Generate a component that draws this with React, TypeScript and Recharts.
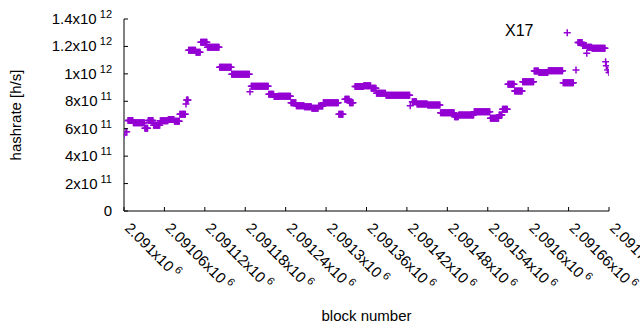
import { ScatterChart, Scatter, XAxis, YAxis, Legend } from "recharts"

// hashrate is flat over runs of consecutive blocks; each run is [first block, last block, value]
const runFirst = [
  2091000, 2091003, 2091006, 2091014, 2091031, 2091036, 2091044, 2091054, 2091066, 2091075,
  2091083, 2091092, 2091093, 2091096, 2091107, 2091114, 2091124, 2091142, 2091160, 2091187,
  2091189, 2091215, 2091223, 2091229, 2091248, 2091256, 2091268, 2091279, 2091289, 2091296,
  2091319, 2091328, 2091335, 2091343, 2091356, 2091367, 2091375, 2091389, 2091425, 2091428,
  2091435, 2091451, 2091470, 2091491, 2091497, 2091520, 2091544, 2091557, 2091562, 2091570,
  2091580, 2091592, 2091609, 2091616, 2091630, 2091652, 2091658, 2091671, 2091674, 2091681,
  2091687, 2091688, 2091695, 2091715, 2091716, 2091718, 2091720,
]
const runLast = [
  2091000, 2091004, 2091013, 2091030, 2091035, 2091043, 2091053, 2091065, 2091074, 2091082,
  2091091, 2091092, 2091095, 2091106, 2091113, 2091123, 2091141, 2091159, 2091186, 2091187,
  2091214, 2091222, 2091228, 2091247, 2091255, 2091267, 2091278, 2091288, 2091295, 2091318,
  2091325, 2091334, 2091340, 2091355, 2091366, 2091374, 2091388, 2091424, 2091425, 2091434,
  2091450, 2091469, 2091490, 2091496, 2091519, 2091543, 2091556, 2091561, 2091569, 2091579,
  2091591, 2091608, 2091615, 2091629, 2091651, 2091667, 2091658, 2091671, 2091680, 2091686,
  2091687, 2091694, 2091714, 2091715, 2091716, 2091718, 2091720,
]
const runHashrate = [
  0.554e12, 0.578e12, 0.66e12, 0.644e12, 0.603e12, 0.659e12, 0.626e12, 0.658e12, 0.668e12, 0.654e12,
  0.705e12, 0.78e12, 0.81e12, 1.172e12, 1.158e12, 1.23e12, 1.194e12, 1.048e12, 0.997e12, 0.87e12,
  0.91e12, 0.851e12, 0.834e12, 0.836e12, 0.79e12, 0.768e12, 0.76e12, 0.749e12, 0.766e12, 0.79e12,
  0.705e12, 0.815e12, 0.79e12, 0.907e12, 0.914e12, 0.895e12, 0.858e12, 0.844e12, 0.768e12, 0.797e12,
  0.78e12, 0.773e12, 0.717e12, 0.688e12, 0.7e12, 0.724e12, 0.676e12, 0.7e12, 0.742e12, 0.924e12,
  0.875e12, 0.943e12, 1.02e12, 1.01e12, 1.022e12, 0.936e12, 1.3e12, 1.028e12, 1.228e12, 1.207e12,
  1.15e12, 1.194e12, 1.187e12, 1.089e12, 1.06e12, 1.028e12, 1.009e12,
]

const xTicks = [
  2091000, 2091060, 2091120, 2091180, 2091240, 2091300, 2091360, 2091420, 2091480, 2091540,
  2091600, 2091660, 2091720,
]
const yTicks = [0, 2e11, 4e11, 6e11, 8e11, 1e12, 1.2e12, 1.4e12]

const points: { block: number; hashrate: number }[] = []
runFirst.forEach((first, i) => {
  for (let b = first; b <= runLast[i]; b++) points.push({ block: b, hashrate: runHashrate[i] })
})

const font = "'Liberation Sans', Arial, sans-serif"
const purple = "#9400d3"

const sci = (v: number) => {
  if (v === 0) return { m: "0", e: "" }
  const e = Math.floor(Math.log10(v) + 1e-9)
  return { m: String(+(v / Math.pow(10, e)).toFixed(5)), e: String(e) }
}

const Plus = (p: any) => (
  <path
    d={`M${p.cx - 3.5},${p.cy}h7M${p.cx},${p.cy - 3.5}v7`}
    stroke={purple}
    strokeWidth={1.5}
    fill="none"
  />
)

const BottomTick = ({ x, y, payload }: any) => {
  const { m, e } = sci(payload.value)
  return (
    <g>
      <line x1={x} y1={y} x2={x} y2={y - 4} stroke="#000" />
      <text
        transform={`translate(${x},${y + 18}) rotate(45)`}
        fontFamily={font}
        fontSize={15}
        fill="#000"
      >
        {m}x10<tspan fontSize={11} dy={-6}> {e}</tspan>
      </text>
    </g>
  )
}

const TopTick = ({ x, y }: any) => <line x1={x} y1={y} x2={x} y2={y + 4} stroke="#000" />

const LeftTick = ({ x, y, payload }: any) => {
  const { m, e } = sci(payload.value)
  return (
    <g>
      <line x1={x} y1={y} x2={x + 4} y2={y} stroke="#000" />
      <text x={x - 12} y={y + 5} textAnchor="end" fontFamily={font} fontSize={15} fill="#000">
        {m}
        {e && "x10"}
        {e && (
          <tspan fontSize={11} dy={-6}>
            {" " + e}
          </tspan>
        )}
      </text>
    </g>
  )
}

const RightTick = ({ x, y }: any) => <line x1={x} y1={y} x2={x - 4} y2={y} stroke="#000" />

export default function App() {
  return (
    <div style={{ position: "absolute", left: 0, top: 0, background: "#fff" }}>
      <ScatterChart width={640} height={330} margin={{ top: 19, right: 31, bottom: 0, left: 0 }}>
        <XAxis
          xAxisId="b"
          dataKey="block"
          type="number"
          orientation="bottom"
          domain={[2091000, 2091720]}
          allowDataOverflow
          ticks={xTicks}
          interval={0}
          height={119}
          tickSize={0}
          tickMargin={0}
          tickLine={false}
          axisLine={{ stroke: "#000" }}
          tick={<BottomTick />}
          label={({ viewBox }: any) => (
            <text
              x={viewBox.x + viewBox.width / 2}
              y={321}
              textAnchor="middle"
              fontFamily={font}
              fontSize={15}
              fill="#000"
            >
              block number
            </text>
          )}
        />
        <XAxis
          xAxisId="t"
          type="number"
          orientation="top"
          domain={[2091000, 2091720]}
          allowDataOverflow
          ticks={xTicks}
          interval={0}
          height={0}
          tickSize={0}
          tickMargin={0}
          tickLine={false}
          axisLine={{ stroke: "#000" }}
          tick={<TopTick />}
        />
        <YAxis
          yAxisId="l"
          dataKey="hashrate"
          type="number"
          orientation="left"
          domain={[0, 1.4e12]}
          allowDataOverflow
          ticks={yTicks}
          interval={0}
          width={124}
          tickSize={0}
          tickMargin={0}
          tickLine={false}
          axisLine={{ stroke: "#000" }}
          tick={<LeftTick />}
          label={({ viewBox }: any) => (
            <text
              transform={`translate(21,${viewBox.y + viewBox.height / 2}) rotate(-90)`}
              textAnchor="middle"
              fontFamily={font}
              fontSize={15}
              fill="#000"
            >
              hashrate [h/s]
            </text>
          )}
        />
        <YAxis
          yAxisId="r"
          type="number"
          orientation="right"
          domain={[0, 1.4e12]}
          allowDataOverflow
          ticks={yTicks}
          interval={0}
          width={0}
          tickSize={0}
          tickMargin={0}
          tickLine={false}
          axisLine={{ stroke: "#000" }}
          tick={<RightTick />}
        />
        <Legend
          layout="horizontal"
          verticalAlign="middle"
          align="center"
          wrapperStyle={{ position: "absolute", left: 505, top: 23, width: "auto" }}
          content={() => (
            <div style={{ fontFamily: font, fontSize: 16, lineHeight: 1, color: "#000" }}>X17</div>
          )}
        />
        <Scatter
          name="X17"
          data={points}
          xAxisId="b"
          yAxisId="l"
          fill={purple}
          shape={Plus}
          isAnimationActive={false}
        />
      </ScatterChart>
    </div>
  )
}
